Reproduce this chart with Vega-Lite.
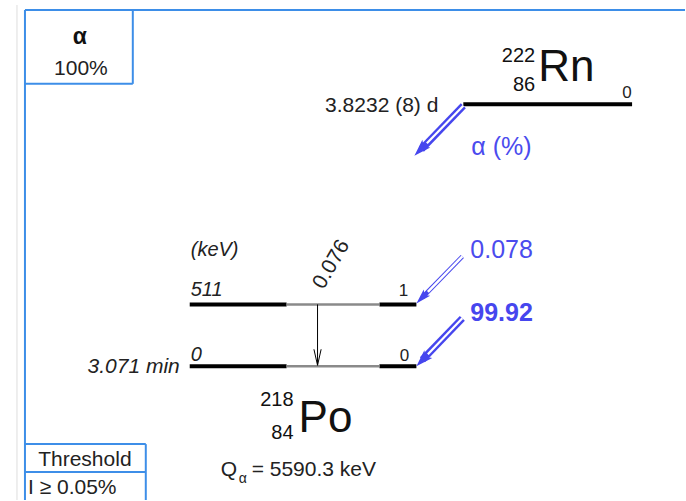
{
  "$schema": "https://vega.github.io/schema/vega-lite/v6.json",
  "width": 686,
  "height": 501,
  "autosize": {"type": "fit", "contains": "padding"},
  "padding": 0,
  "background": "white",
  "config": {"view": {"stroke": null}, "font": "Liberation Sans"},
  "encoding": {
    "x": {"field": "x", "type": "quantitative", "scale": {"domain": [0, 686], "nice": false, "zero": false}, "axis": null},
    "y": {"field": "y", "type": "quantitative", "scale": {"domain": [0, 501], "nice": false, "zero": false, "reverse": true}, "axis": null}
  },
  "layer": [
    {
      "data": {"values": [{"x": 17, "y": 5, "x2": 17, "y2": 501}]},
      "mark": {"type": "rule", "color": "#dddddd", "strokeWidth": 1},
      "encoding": {"x2": {"field": "x2"}, "y2": {"field": "y2"}}
    },
    {
      "data": {"values": [
        {"part": "frame top", "x": 25, "y": 10, "x2": 686, "y2": 10},
        {"part": "frame left", "x": 25, "y": 10, "x2": 25, "y2": 501},
        {"part": "mode box right", "x": 133, "y": 10, "x2": 133, "y2": 84},
        {"part": "mode box bottom", "x": 25, "y": 84, "x2": 133, "y2": 84},
        {"part": "threshold top", "x": 25, "y": 445, "x2": 146, "y2": 445},
        {"part": "threshold middle", "x": 25, "y": 473, "x2": 146, "y2": 473},
        {"part": "threshold right", "x": 146, "y": 445, "x2": 146, "y2": 501}
      ]},
      "mark": {"type": "rule", "color": "#3d8ee8", "strokeWidth": 2},
      "encoding": {"x2": {"field": "x2"}, "y2": {"field": "y2"}}
    },
    {
      "data": {"values": [
        {"level": "Rn 0", "x": 464, "y": 104.5, "x2": 633, "y2": 104.5},
        {"level": "Po 511 left", "x": 190, "y": 305, "x2": 287, "y2": 305},
        {"level": "Po 511 right", "x": 380, "y": 305, "x2": 417, "y2": 305},
        {"level": "Po 0 left", "x": 190, "y": 367, "x2": 287, "y2": 367},
        {"level": "Po 0 right", "x": 380, "y": 367, "x2": 417, "y2": 367}
      ]},
      "mark": {"type": "rule", "color": "#000000", "strokeWidth": 4},
      "encoding": {"x2": {"field": "x2"}, "y2": {"field": "y2"}}
    },
    {
      "data": {"values": [
        {"level": "Po 511 mid", "x": 287, "y": 305, "x2": 380, "y2": 305},
        {"level": "Po 0 mid", "x": 287, "y": 367, "x2": 380, "y2": 367}
      ]},
      "mark": {"type": "rule", "color": "#8a8a8a", "strokeWidth": 2.5},
      "encoding": {"x2": {"field": "x2"}, "y2": {"field": "y2"}}
    },
    {
      "data": {"values": [{"gamma": "0.076", "x": 318, "y": 305, "x2": 318, "y2": 366}]},
      "mark": {"type": "rule", "color": "#000000", "strokeWidth": 1},
      "encoding": {"x2": {"field": "x2"}, "y2": {"field": "y2"}}
    },
    {
      "data": {"values": [{"gamma": "0.076", "x": 318, "y": 366}]},
      "mark": {"type": "point", "shape": "M-0.45,-2 L0,0 L0.45,-2", "filled": false, "size": 256, "stroke": "#000000", "strokeWidth": 1, "opacity": 1}
    },
    {
      "data": {"values": [
        {"branch": "Rn", "x": 464, "y": 106, "x2": 422, "y2": 149.5},
        {"branch": "99.92", "x": 463, "y": 319, "x2": 423, "y2": 360.5}
      ]},
      "mark": {"type": "rule", "color": "#4646ee", "strokeWidth": 7},
      "encoding": {"x2": {"field": "x2"}, "y2": {"field": "y2"}}
    },
    {
      "data": {"values": [
        {"branch": "0.078", "x": 463, "y": 257, "x2": 423, "y2": 298}
      ]},
      "mark": {"type": "rule", "color": "#4646ee", "strokeWidth": 4.5},
      "encoding": {"x2": {"field": "x2"}, "y2": {"field": "y2"}}
    },
    {
      "data": {"values": [
        {"branch": "Rn", "x": 464, "y": 106, "x2": 427.5, "y2": 143.5},
        {"branch": "99.92", "x": 463, "y": 319, "x2": 428.5, "y2": 355}
      ]},
      "mark": {"type": "rule", "color": "#ffffff", "strokeWidth": 2.2},
      "encoding": {"x2": {"field": "x2"}, "y2": {"field": "y2"}}
    },
    {
      "data": {"values": [
        {"branch": "0.078", "x": 463, "y": 257, "x2": 428.5, "y2": 292.5}
      ]},
      "mark": {"type": "rule", "color": "#ffffff", "strokeWidth": 2.5},
      "encoding": {"x2": {"field": "x2"}, "y2": {"field": "y2"}}
    },
    {
      "data": {"values": [
        {"branch": "Rn", "x": 415, "y": 156},
        {"branch": "99.92", "x": 417, "y": 367}
      ]},
      "mark": {"type": "point", "shape": "M0,0 L-0.65,-2 L0,-1.55 L0.65,-2 Z", "filled": true, "size": 289, "color": "#4646ee", "angle": 44.5, "opacity": 1}
    },
    {
      "data": {"values": [
        {"branch": "0.078", "x": 417, "y": 304}
      ]},
      "mark": {"type": "point", "shape": "M0,0 L-0.6,-2 L0,-1.55 L0.6,-2 Z", "filled": true, "size": 225, "color": "#4646ee", "angle": 44.5, "opacity": 1}
    },
    {
      "data": {"values": [
        {"label": "100%", "x": 81, "y": 75},
        {"label": "Threshold", "x": 85, "y": 467}
      ]},
      "mark": {"type": "text", "fontSize": 21, "align": "center", "baseline": "alphabetic", "color": "#222222"},
      "encoding": {"text": {"field": "label"}}
    },
    {
      "data": {"values": [
        {"label": "I ≥ 0.05%", "x": 28, "y": 495},
        {"label": "Q", "x": 221, "y": 477},
        {"label": "= 5590.3 keV", "x": 252, "y": 477}
      ]},
      "mark": {"type": "text", "fontSize": 21, "align": "left", "baseline": "alphabetic", "color": "#222222"},
      "encoding": {"text": {"field": "label"}}
    },
    {
      "data": {"values": [{"label": "α", "x": 239, "y": 484}]},
      "mark": {"type": "text", "fontSize": 14, "align": "left", "baseline": "alphabetic", "color": "#222222"},
      "encoding": {"text": {"field": "label"}}
    },
    {
      "data": {"values": [{"label": "3.8232 (8) d", "x": 439, "y": 112}]},
      "mark": {"type": "text", "fontSize": 21, "align": "right", "baseline": "alphabetic", "color": "#222222"},
      "encoding": {"text": {"field": "label"}}
    },
    {
      "data": {"values": [{"label": "α", "x": 80, "y": 44}]},
      "mark": {"type": "text", "fontSize": 23, "fontWeight": "bold", "align": "center", "baseline": "alphabetic", "color": "#111111"},
      "encoding": {"text": {"field": "label"}}
    },
    {
      "data": {"values": [
        {"label": "0", "x": 628, "y": 98},
        {"label": "1", "x": 404, "y": 297},
        {"label": "0", "x": 405, "y": 362}
      ]},
      "mark": {"type": "text", "fontSize": 17, "align": "center", "baseline": "alphabetic", "color": "#222222"},
      "encoding": {"text": {"field": "label"}}
    },
    {
      "data": {"values": [
        {"label": "(keV)", "x": 191, "y": 257},
        {"label": "511", "x": 191, "y": 297},
        {"label": "0", "x": 191, "y": 362}
      ]},
      "mark": {"type": "text", "fontSize": 20, "fontStyle": "italic", "align": "left", "baseline": "alphabetic", "color": "#222222"},
      "encoding": {"text": {"field": "label"}}
    },
    {
      "data": {"values": [{"label": "3.071 min", "x": 180, "y": 374}]},
      "mark": {"type": "text", "fontSize": 21, "fontStyle": "italic", "align": "right", "baseline": "alphabetic", "color": "#222222"},
      "encoding": {"text": {"field": "label"}}
    },
    {
      "data": {"values": [{"label": "0.076", "x": 332, "y": 265}]},
      "mark": {"type": "text", "fontSize": 21, "angle": -60, "align": "center", "baseline": "middle", "color": "#222222"},
      "encoding": {"text": {"field": "label"}}
    },
    {
      "data": {"values": [
        {"label": "222", "x": 536, "y": 62},
        {"label": "86", "x": 536, "y": 91},
        {"label": "218", "x": 294, "y": 407},
        {"label": "84", "x": 294, "y": 440}
      ]},
      "mark": {"type": "text", "fontSize": 20, "align": "right", "baseline": "alphabetic", "color": "#111111"},
      "encoding": {"text": {"field": "label"}}
    },
    {
      "data": {"values": [
        {"label": "Rn", "x": 539, "y": 81},
        {"label": "Po", "x": 299, "y": 433}
      ]},
      "mark": {"type": "text", "fontSize": 44, "align": "left", "baseline": "alphabetic", "color": "#111111"},
      "encoding": {"text": {"field": "label"}}
    },
    {
      "data": {"values": [
        {"label": "α (%)", "x": 472, "y": 155},
        {"label": "0.078", "x": 471, "y": 259}
      ]},
      "mark": {"type": "text", "fontSize": 25, "align": "left", "baseline": "alphabetic", "color": "#4b4bee"},
      "encoding": {"text": {"field": "label"}}
    },
    {
      "data": {"values": [{"label": "99.92", "x": 471, "y": 322}]},
      "mark": {"type": "text", "fontSize": 25, "fontWeight": "bold", "align": "left", "baseline": "alphabetic", "color": "#4646ee"},
      "encoding": {"text": {"field": "label"}}
    }
  ]
}
